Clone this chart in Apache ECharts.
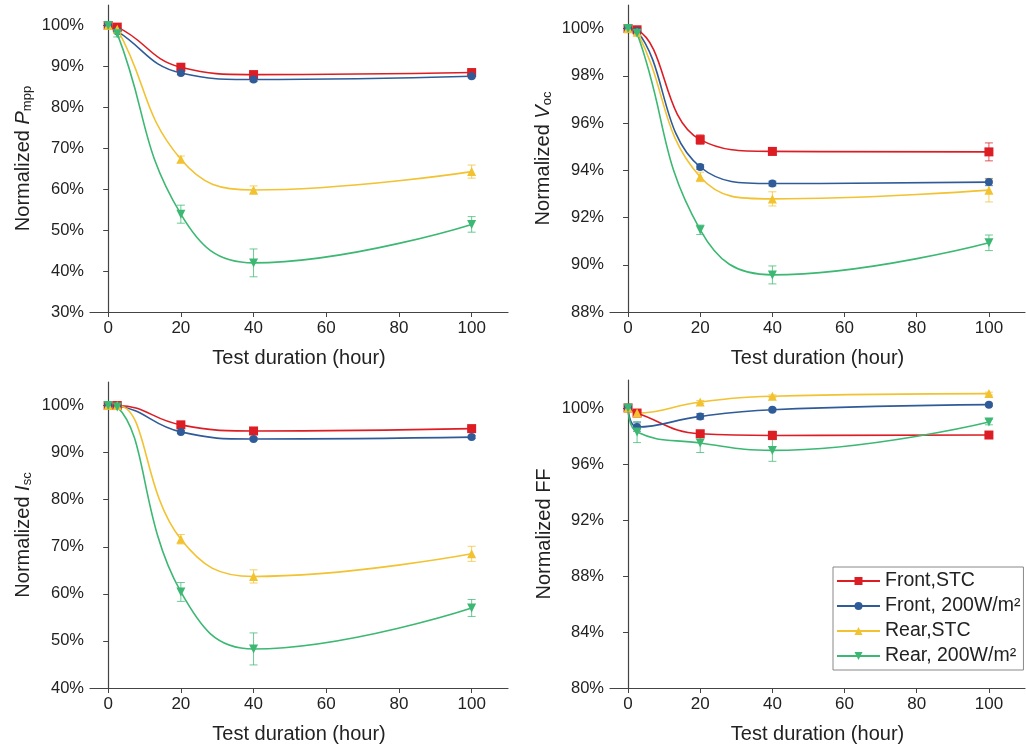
<!DOCTYPE html>
<html>
<head>
<meta charset="utf-8">
<script src="https://cdn.jsdelivr.net/npm/echarts@6/dist/echarts.min.js"></script>
<style>
  html, body { margin: 0; padding: 0; background: #fff; }
  #main { width: 1026px; height: 750px; }
</style>
</head>
<body>
<div id="main"></div>
<script>
// test duration (hour)
const hours = [0, 2.5, 20, 40, 100]
const seriesNames = ['Front,STC', 'Front, 200W/m\u00b2', 'Rear,STC', 'Rear, 200W/m\u00b2']

// normalized Pmpp (%)
const pmppFrontStc = [100, 99.6, 89.8, 88.0, 88.5]
const pmppFront200 = [100, 98.6, 88.4, 86.8, 87.6]
const pmppRearStc = [100, 99.1, 67.3, 59.8, 64.3]
const pmppRear200 = [100, 98.0, 53.9, 42.0, 51.4]
const pmppErr = [
  [0, 0.3, 0.5, 0.5, 0.5],
  [0, 0.3, 0.4, 0.5, 0.4],
  [0, 0.5, 0.8, 1.0, 1.6],
  [0, 0.8, 2.2, 3.4, 1.9]
]

// normalized Voc (%)
const vocFrontStc = [100, 99.95, 95.3, 94.8, 94.78]
const vocFront200 = [100, 99.9, 94.14, 93.44, 93.5]
const vocRearStc = [100, 99.85, 93.72, 92.79, 93.16]
const vocRear200 = [100, 99.8, 91.48, 89.57, 90.93]
const vocErr = [
  [0, 0.05, 0.2, 0.15, 0.38],
  [0, 0.05, 0.1, 0.1, 0.15],
  [0, 0.05, 0.2, 0.3, 0.5],
  [0, 0.05, 0.2, 0.38, 0.33]
]

// normalized Isc (%)
const iscFrontStc = [100, 100, 95.9, 94.6, 95.1]
const iscFront200 = [100, 99.9, 94.4, 92.9, 93.3]
const iscRearStc = [100, 100, 71.6, 63.7, 68.5]
const iscRear200 = [100, 99.7, 60.4, 48.3, 57.0]
const iscErr = [
  [0, 0.2, 0.4, 0.4, 0.4],
  [0, 0.2, 0.3, 0.3, 0.3],
  [0, 0.3, 1.0, 1.4, 1.6],
  [0, 0.4, 2.0, 3.4, 1.8]
]

// normalized FF (%)
const ffFrontStc = [100, 99.64, 98.16, 98.04, 98.07]
const ffFront200 = [100, 98.64, 99.4, 99.88, 100.24]
const ffRearStc = [100, 99.64, 100.43, 100.84, 101.03]
const ffRear200 = [100, 98.28, 97.5, 96.97, 99.0]
const ffErr = [
  [0, 0.2, 0.2, 0.3, 0.1],
  [0, 0.3, 0.2, 0.1, 0.1],
  [0, 0.2, 0.1, 0.1, 0.1],
  [0, 0.75, 0.68, 0.78, 0.2]
]

const xTicks = [0, 20, 40, 60, 80, 100]
const pmppTicks = [30, 40, 50, 60, 70, 80, 90, 100]
const vocTicks = [88, 90, 92, 94, 96, 98, 100]
const iscTicks = [40, 50, 60, 70, 80, 90, 100]
const ffTicks = [80, 84, 88, 92, 96, 100]

const colors = ['#dc1e24', '#2f5b98', '#f2c230', '#3cb873']
const symbols = ['rect', 'circle', 'triangle', 'triangle']
const rotates = [0, 0, 0, 180]
const FONT = 'Liberation Sans, Arial, sans-serif'
const AXIS_COLOR = '#444'

const panels = [
  { values: [pmppFrontStc, pmppFront200, pmppRearStc, pmppRear200], err: pmppErr, ticks: pmppTicks, min: 30, max: 105, name: 'Normalized {i|P}{sub|mpp}', grid: { left: 90, top: 5, width: 418, height: 307 } },
  { values: [vocFrontStc, vocFront200, vocRearStc, vocRear200], err: vocErr, ticks: vocTicks, min: 88, max: 101, name: 'Normalized {i|V}{sub|oc}', grid: { left: 610, top: 5, width: 415, height: 307 } },
  { values: [iscFrontStc, iscFront200, iscRearStc, iscRear200], err: iscErr, ticks: iscTicks, min: 40, max: 105, name: 'Normalized {i|I}{sub|sc}', grid: { left: 90, top: 382, width: 418, height: 306 } },
  { values: [ffFrontStc, ffFront200, ffRearStc, ffRear200], err: ffErr, ticks: ffTicks, min: 80, max: 102, name: 'Normalized FF', grid: { left: 610, top: 380, width: 415, height: 308 } }
]

function renderErr (params, api) {
  const x = api.value(0)
  const lo = api.coord([x, api.value(1)])
  const hi = api.coord([x, api.value(2)])
  const w = 4
  const style = { stroke: api.visual('color'), lineWidth: 1, opacity: 0.75 }
  return {
    type: 'group',
    children: [
      { type: 'line', shape: { x1: lo[0], y1: lo[1], x2: hi[0], y2: hi[1] }, style: style },
      { type: 'line', shape: { x1: lo[0] - w, y1: lo[1], x2: lo[0] + w, y2: lo[1] }, style: style },
      { type: 'line', shape: { x1: hi[0] - w, y1: hi[1], x2: hi[0] + w, y2: hi[1] }, style: style }
    ]
  }
}

let grids = []
let xAxes = []
let yAxes = []
let series = []

panels.forEach((p, gi) => {
  grids.push(p.grid)
  xAxes.push({
    type: 'value',
    gridIndex: gi,
    min: -5,
    max: 110,
    name: 'Test duration (hour)',
    nameLocation: 'middle',
    nameGap: 36,
    nameTextStyle: { fontFamily: FONT, fontSize: 20, color: '#222' },
    splitLine: { show: false },
    axisLine: { show: true, lineStyle: { color: AXIS_COLOR, width: 1.2 } },
    axisTick: { show: true, length: 5, customValues: xTicks, lineStyle: { color: AXIS_COLOR } },
    axisLabel: { customValues: xTicks, fontFamily: FONT, fontSize: 17, color: '#222', margin: 8 }
  })
  yAxes.push({
    type: 'value',
    gridIndex: gi,
    min: p.min,
    max: p.max,
    name: p.name,
    nameLocation: 'middle',
    nameRotate: 90,
    nameGap: 56,
    nameTextStyle: {
      fontFamily: FONT,
      fontSize: 20,
      color: '#222',
      rich: {
        i: { fontFamily: FONT, fontSize: 20, fontStyle: 'italic', color: '#222' },
        sub: { fontFamily: FONT, fontSize: 13, color: '#222', verticalAlign: 'bottom', padding: [9, 0, 0, 0] }
      }
    },
    splitLine: { show: false },
    axisLine: { show: true, lineStyle: { color: AXIS_COLOR, width: 1.2 } },
    axisTick: { show: true, length: 5, customValues: p.ticks, lineStyle: { color: AXIS_COLOR } },
    axisLabel: { customValues: p.ticks, fontFamily: FONT, fontSize: 16.5, color: '#222', margin: 6, formatter: v => v + '%' }
  })
  p.values.forEach((vals, si) => {
    series.push({
      name: seriesNames[si],
      type: 'line',
      xAxisIndex: gi,
      yAxisIndex: gi,
      smooth: 0.45,
      symbol: symbols[si],
      symbolRotate: rotates[si],
      symbolSize: si === 1 ? 8 : 9,
      color: colors[si],
      lineStyle: { width: 1.6, color: colors[si] },
      itemStyle: { color: colors[si] },
      data: hours.map((h, k) => [h, vals[k]]),
      z: 3
    })
    series.push({
      name: 'err' + gi + si,
      type: 'custom',
      xAxisIndex: gi,
      yAxisIndex: gi,
      color: colors[si],
      renderItem: renderErr,
      encode: { x: 0, y: [1, 2] },
      data: hours.map((h, k) => [h, vals[k] - p.err[si][k], vals[k] + p.err[si][k]]),
      z: 2
    })
  })
})

const chart = echarts.init(document.getElementById('main'))
chart.setOption({
  backgroundColor: '#fff',
  animation: false,
  grid: grids,
  xAxis: xAxes,
  yAxis: yAxes,
  legend: {
    data: seriesNames,
    orient: 'vertical',
    left: 833,
    top: 567,
    itemWidth: 43,
    itemHeight: 10,
    itemGap: 5,
    padding: [4, 3, 4, 3],
    borderColor: '#888',
    borderWidth: 1,
    borderRadius: 0,
    backgroundColor: '#fff',
    textStyle: { fontFamily: FONT, fontSize: 19.5, color: '#222' }
  },
  series: series
})
</script>
</body>
</html>
